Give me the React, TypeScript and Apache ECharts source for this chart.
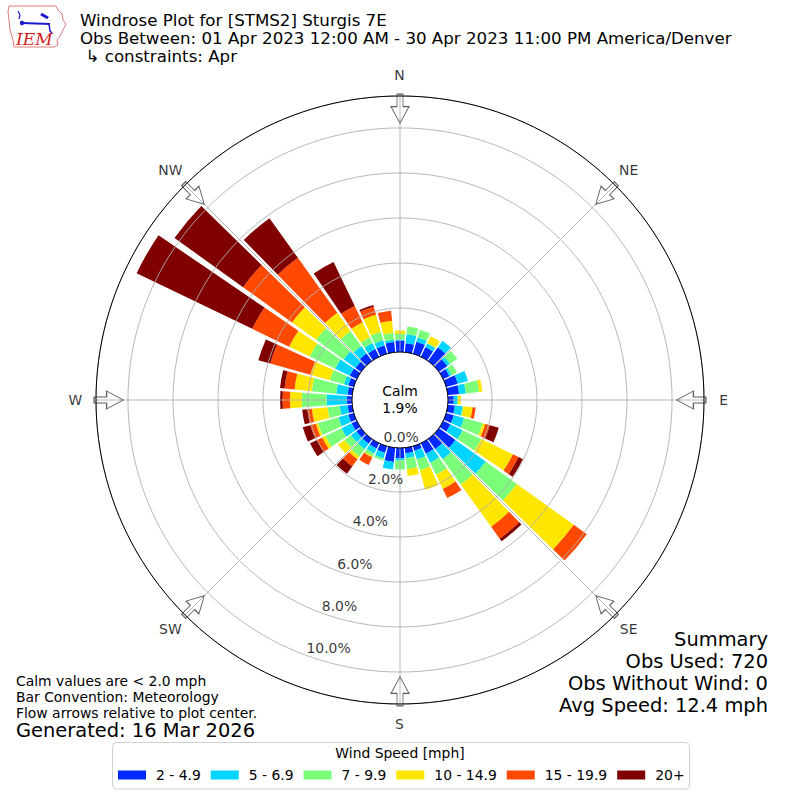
import React, { useEffect, useRef } from "react";
import * as echarts from "echarts";

// Direction bins (degrees, meteorological convention)
const DIRECTIONS = [
  "0", "10", "20", "30", "40", "50", "60", "70", "80", "90",
  "100", "110", "120", "130", "140", "150", "160", "170", "180", "190",
  "200", "210", "220", "230", "240", "250", "260", "270", "280", "290",
  "300", "310", "320", "330", "340", "350",
];

const SPEED_BINS = ["2 - 4.9", "5 - 6.9", "7 - 9.9", "10 - 14.9", "15 - 19.9", "20+"];

// Percent frequency per direction for each speed bin
const BIN_2_5 = [0.55, 0.45, 0.6, 0.52, 0.8, 0.5, 0.35, 0.58, 0.55, 0.3, 0.36, 0.4, 0.4, 0.95, 0.6, 0.56, 0.25, 0.3, 0.5, 0.68, 0.35, 0.3, 0.3, 0.3, 0.3, 0.3, 0.25, 0.28, 0.25, 0.3, 0.39, 0.35, 0.46, 0.43, 0.43, 0.5];
const BIN_5_7 = [0.05, 0.4, 0.2, 0.18, 0.35, 0.15, 0.1, 0.47, 0.3, 0.15, 0.34, 0.47, 0.6, 1.65, 0.56, 0.44, 0.4, 0.2, 0.1, 0.34, 0.25, 0.25, 0.3, 0.3, 0.5, 0.45, 0.35, 0.89, 0.51, 0.2, 0.72, 0.65, 0.4, 0.29, 0.24, 0.1];
const BIN_7_10 = [0.25, 0.34, 0.35, 0.02, 0, 0.4, 0.27, 0, 0.6, 0.05, 0.05, 0.86, 0.92, 1.7, 1.38, 0.6, 0.5, 0.5, 0.4, 0, 0.1, 0.15, 0.4, 0.35, 0.8, 0.95, 0.55, 1.11, 1.09, 0.65, 1.25, 1.5, 0.83, 0.28, 0.39, 0.32];
const BIN_10_15 = [0.15, 0, 0, 0.33, 0, 0, 0, 0, 0.14, 0.12, 0.4, 0.12, 1.56, 3.12, 2.31, 0.7, 0.9, 0.3, 0, 0, 0, 0.05, 0.15, 0.35, 0.15, 0.1, 0.7, 0.52, 0.77, 0.9, 1.02, 1.32, 1.0, 0.75, 0.79, 0.53];
const BIN_15_20 = [0, 0, 0, 0, 0, 0, 0, 0, 0, 0, 0.14, 0.21, 0.28, 0.71, 0.65, 0.45, 0, 0, 0, 0, 0, 0.37, 0.4, 0, 0.25, 0.25, 0.2, 0.33, 0.45, 1.85, 1.82, 2.68, 3.0, 0.8, 0.37, 0.45];
const BIN_20_UP = [0, 0, 0, 0, 0, 0, 0, 0, 0, 0, 0, 0.41, 0.21, 0, 0.14, 0, 0, 0, 0, 0, 0, 0, 0.4, 0, 0.35, 0.35, 0.23, 0.11, 0.2, 0.55, 5.7, 3.75, 2.16, 2.17, 0.08, 0];

const BIN_VALUES = [BIN_2_5, BIN_5_7, BIN_7_10, BIN_10_15, BIN_15_20, BIN_20_UP];

const RING_TICKS = [0, 2, 4, 6, 8, 10];
const COMPASS_NAMES = ["N", "NE", "E", "SE", "S", "SW", "W", "NW"];
const COMPASS_ANGLES = [0, 45, 90, 135, 180, 225, 270, 315];

const CALM_PCT = "1.9%";
const TITLE_LINES = [
  "Windrose Plot for [STMS2] Sturgis 7E",
  "Obs Between: 01 Apr 2023 12:00 AM - 30 Apr 2023 11:00 PM America/Denver",
];
const CONSTRAINT_LINE = "\u21b3 constraints: Apr";
const NOTE_LINES = [
  "Calm values are < 2.0 mph",
  "Bar Convention: Meteorology",
  "Flow arrows relative to plot center.",
];
const GENERATED = "Generated: 16 Mar 2026";
const SUMMARY_LINES = ["Summary", "Obs Used: 720", "Obs Without Wind: 0", "Avg Speed: 12.4 mph"];

// styling / layout
const COLORS = ["#002aff", "#00d4ff", "#7bff7b", "#ffe600", "#ff4800", "#800000"];
const FONT = "DejaVu Sans";
const R_MAX = 11.42;
const RING_LABEL_ANGLE = 200;
const COMPASS_LABEL_R = 12.31;
const ARROW_R = 10.86;
const ARROW_PATH = "path://M6 0L12 0L12 12.5L18 12.5L9 29L0 12.5L6 12.5Z";

function txt(text: string, x: number, y: number, size: number, align = "left", extra: any = {}) {
  return {
    type: "text",
    x,
    y,
    z: 20,
    style: {
      text,
      fontSize: size,
      fontFamily: FONT,
      fill: "#000",
      align,
      textAlign: align,
      verticalAlign: "middle",
      textVerticalAlign: "middle",
      lineHeight: Math.round(size * 1.08),
      ...extra,
    },
  };
}

export default function App() {
  const ref = useRef<HTMLDivElement>(null);

  useEffect(() => {
    if (!ref.current) return;
    const chart = echarts.init(ref.current, undefined, { renderer: "svg" });

    const barSeries = SPEED_BINS.map((name, i) => ({
      type: "bar",
      name,
      coordinateSystem: "polar",
      polarIndex: 0,
      stack: "wind",
      data: BIN_VALUES[i],
      barCategoryGap: "14%",
      itemStyle: { color: COLORS[i] },
      silent: true,
      z: 2,
    }));

    const option: any = {
      animation: false,
      backgroundColor: "#fff",
      polar: [
        { center: [400, 400], radius: [47, 304] },
        { center: [400, 400], radius: [47, 304] },
      ],
      angleAxis: [
        {
          polarIndex: 0,
          type: "category",
          data: DIRECTIONS,
          startAngle: 95,
          clockwise: true,
          boundaryGap: true,
          show: false,
        },
        {
          polarIndex: 1,
          type: "value",
          min: 0,
          max: 360,
          interval: 45,
          startAngle: 90,
          clockwise: true,
          z: 4,
          axisLine: { show: true, lineStyle: { color: "#000", width: 1 } },
          axisTick: { show: false },
          axisLabel: { show: false },
          splitLine: { show: true, lineStyle: { color: "#b0b0b0", width: 0.9 } },
        },
      ],
      radiusAxis: [
        { polarIndex: 0, type: "value", min: 0, max: R_MAX, show: false },
        {
          polarIndex: 1,
          type: "value",
          min: 0,
          max: R_MAX,
          interval: 2,
          z: 3,
          axisLine: { show: false },
          axisTick: { show: false },
          axisLabel: { show: false },
          splitLine: { show: true, lineStyle: { color: "#b0b0b0", width: 0.9 } },
        },
      ],
      legend: {
        data: SPEED_BINS,
        left: 118,
        top: 768,
        padding: 0,
        orient: "horizontal",
        icon: "rect",
        itemWidth: 28,
        itemHeight: 9,
        itemGap: 10,
        selectedMode: false,
        z: 10,
        textStyle: { fontSize: 13.9, fontFamily: FONT, color: "#000", padding: [0, 0, 0, 5] },
      },
      series: [
        ...barSeries,
        {
          type: "scatter",
          coordinateSystem: "polar",
          polarIndex: 1,
          data: RING_TICKS.map((t) => [t, RING_LABEL_ANGLE]),
          symbolSize: 1,
          itemStyle: { color: "rgba(0,0,0,0)" },
          silent: true,
          clip: false,
          z: 10,
          label: {
            show: true,
            position: [0, 0],
            align: "left",
            verticalAlign: "bottom",
            formatter: (p: any) => p.value[0].toFixed(1) + "%",
            fontSize: 13.9,
            fontFamily: FONT,
            color: "#000",
          },
        },
        {
          type: "scatter",
          coordinateSystem: "polar",
          polarIndex: 1,
          data: COMPASS_NAMES.map((n, i) => ({ name: n, value: [COMPASS_LABEL_R, COMPASS_ANGLES[i]] })),
          symbolSize: 1,
          itemStyle: { color: "rgba(0,0,0,0)" },
          silent: true,
          clip: false,
          z: 10,
          label: {
            show: true,
            position: [0, 0],
            align: "center",
            verticalAlign: "middle",
            formatter: "{b}",
            fontSize: 13.9,
            fontFamily: FONT,
            color: "#000",
          },
        },
        {
          type: "scatter",
          coordinateSystem: "polar",
          polarIndex: 1,
          data: COMPASS_ANGLES.map((a) => ({ value: [ARROW_R, a], symbolRotate: -a })),
          symbol: ARROW_PATH,
          symbolSize: [18, 29],
          itemStyle: { color: "rgba(255,255,255,0)", borderColor: "#333", borderWidth: 1 },
          silent: true,
          clip: false,
          z: 11,
        },
      ],
      graphic: [
        // legend frame + title
        {
          type: "rect",
          z: 1,
          shape: { x: 112.5, y: 742.5, width: 577, height: 46.5, r: 4 },
          style: { fill: "#fff", stroke: "#d0d0d0", lineWidth: 1 },
        },
        txt("Wind Speed [mph]", 400, 753, 13.9, "center"),
        // calm circle
        {
          type: "circle",
          z: 6,
          shape: { cx: 400, cy: 400, r: 48 },
          style: { fill: "#fff", stroke: "#000", lineWidth: 1 },
        },
        txt("Calm\n" + CALM_PCT, 400, 399.5, 13.9, "center", { lineHeight: 17 }),
        // titles
        txt(TITLE_LINES[0], 80, 20.3, 16.67),
        txt(TITLE_LINES[1], 80, 38.3, 16.67),
        txt(CONSTRAINT_LINE, 85.5, 56.3, 16.67),
        // notes
        txt(NOTE_LINES[0], 16, 680.5, 13.9),
        txt(NOTE_LINES[1], 16, 696.5, 13.9),
        txt(NOTE_LINES[2], 16, 712.5, 13.9),
        txt(GENERATED, 16, 730.5, 19.44),
        // summary
        ...SUMMARY_LINES.map((s, i) => txt(s, 768, 639.5 + i * 22, 19.44, "right")),
        // IEM logo
        {
          type: "polygon",
          z: 20,
          shape: {
            points: [
              [9, 6], [56, 6], [58, 10], [62, 14], [63, 20], [66, 24], [63, 30],
              [60, 36], [57, 40], [58, 45], [54, 47], [14, 47], [13, 40], [10, 30], [9, 20], [8, 12],
            ],
          },
          style: { fill: "none", stroke: "#e07a7a", lineWidth: 1 },
        },
        {
          type: "polyline",
          z: 20,
          shape: { points: [[22, 23], [50, 24]] },
          style: { stroke: "#1a1acc", lineWidth: 2 },
        },
        {
          type: "polyline",
          z: 20,
          shape: { points: [[18, 11], [20, 15], [19, 19]] },
          style: { stroke: "#1a1acc", lineWidth: 1.2, fill: "none" },
        },
        {
          type: "polyline",
          z: 20,
          shape: { points: [[41, 14], [48, 18]] },
          style: { stroke: "#1a1acc", lineWidth: 3 },
        },
        {
          type: "polyline",
          z: 20,
          shape: { points: [[49, 24], [50, 31], [52, 33]] },
          style: { stroke: "#1a1acc", lineWidth: 1.5, fill: "none" },
        },
        {
          type: "circle",
          z: 20,
          shape: { cx: 22, cy: 23, r: 2.2 },
          style: { fill: "#1a1acc" },
        },
        {
          type: "text",
          x: 16,
          y: 39,
          z: 20,
          style: {
            text: "IEM",
            fontSize: 17,
            fontFamily: "DejaVu Serif",
            fontStyle: "italic",
            fill: "#d42020",
            align: "left",
            textAlign: "left",
            verticalAlign: "middle",
            textVerticalAlign: "middle",
          },
        },
      ],
    };

    chart.setOption(option);
    return () => chart.dispose();
  }, []);

  return (
    <div
      ref={ref}
      style={{ position: "fixed", left: 0, top: 0, width: 800, height: 800, background: "#fff" }}
    />
  );
}
